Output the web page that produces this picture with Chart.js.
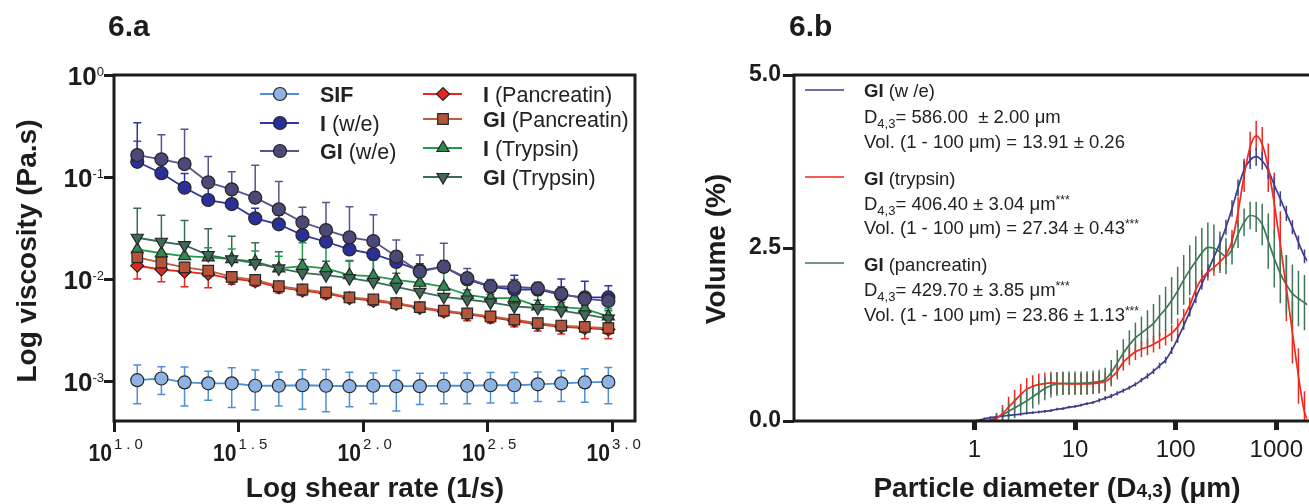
<!DOCTYPE html>
<html><head><meta charset="utf-8">
<script src="https://cdn.jsdelivr.net/npm/chart.js@4.4.1/dist/chart.umd.min.js"></script>
<style>
html,body{margin:0;padding:0;background:#fff;overflow:hidden;}
#wrap{position:relative;width:1309px;height:504px;overflow:hidden;}
#ca{position:absolute;left:0;top:0;}
#cb{position:absolute;left:660px;top:0;}
</style></head><body>
<div id="wrap"><canvas id="ca" width="660" height="504"></canvas><canvas id="cb" width="649" height="504"></canvas></div>
<script>
// ---------- Panel 6.a data ----------
const shearRate = [12.4, 15.5, 19.2, 23.9, 29.7, 36.9, 45.9, 57.1, 71.0, 88.2, 110, 136, 169, 211, 262, 325, 405, 503, 625, 777, 966];
const sifVisc   = [0.00102,0.00106,0.00097,0.00095,0.00095,0.00090,0.00090,0.00091,0.00090,0.00089,0.00090,0.00089,0.00089,0.00090,0.00090,0.00091,0.00091,0.00093,0.00095,0.00097,0.00098];
const sifSD     = [0.00042,0.00032,0.00040,0.00030,0.00040,0.00038,0.00033,0.00038,0.00040,0.00033,0.00030,0.00038,0.00030,0.00030,0.00030,0.00030,0.00030,0.00030,0.00032,0.00035,0.00038];
const iWeVisc   = [0.141,0.109,0.0785,0.0595,0.0543,0.0394,0.0344,0.0270,0.0232,0.0195,0.0176,0.0147,0.0121,0.0132,0.0099,0.0084,0.0079,0.0079,0.0070,0.0066,0.0066];
const iWeSD     = [0.20,0.04,0.03,0.02,0.015,0.01,0.008,0.006,0.005,0.004,0.004,0.003,0.002,0.002,0.0015,0.0012,0.003,0.001,0.003,0.0029,0.002];
const giWeVisc  = [0.164,0.149,0.134,0.0887,0.0757,0.0627,0.0482,0.0360,0.0302,0.0256,0.0236,0.0166,0.0118,0.0132,0.0102,0.0085,0.0084,0.0081,0.0072,0.0064,0.0061];
const giWeSD    = [0.06,0.11,0.16,0.07,0.037,0.068,0.042,0.0145,0.026,0.0256,0.019,0.0075,0.0054,0.0092,0.0025,0.0014,0.0015,0.0012,0.0012,0.001,0.001];
const iPancVisc = [0.0135,0.0124,0.0118,0.0112,0.0101,0.0095,0.0083,0.0077,0.0072,0.0065,0.0061,0.0057,0.0052,0.0048,0.0045,0.0042,0.0039,0.0036,0.0034,0.0033,0.0032];
const iPancSD   = [0.0035,0.003,0.0034,0.003,0.0012,0.001,0.001,0.0008,0.0008,0.0006,0.0006,0.0006,0.0005,0.0005,0.0006,0.0005,0.0005,0.0005,0.0005,0.0007,0.0006];
const giPancVisc= [0.0163,0.0145,0.0130,0.0121,0.0105,0.0098,0.0085,0.0079,0.0074,0.0066,0.0063,0.0058,0.0053,0.0049,0.0046,0.0043,0.0040,0.0037,0.0035,0.0034,0.0033];
const giPancSD  = [0.002,0.0015,0.0015,0.0012,0.0008,0.0008,0.0007,0.0006,0.0006,0.0005,0.0005,0.0005,0.0004,0.0004,0.0005,0.0005,0.0004,0.0004,0.0004,0.0004,0.0004];
const iTrypVisc = [0.0195,0.0179,0.0168,0.0163,0.0157,0.0148,0.0127,0.0134,0.0127,0.0109,0.0107,0.0098,0.0092,0.0084,0.0070,0.0065,0.0065,0.0054,0.0053,0.0051,0.0043];
const iTrypSD   = [0.006,0.005,0.005,0.004,0.004,0.004,0.004,0.0093,0.0088,0.004,0.005,0.0047,0.003,0.004,0.002,0.0015,0.003,0.0015,0.0015,0.0015,0.0008];
const giTrypVisc= [0.0254,0.0232,0.0215,0.0172,0.0156,0.0143,0.0127,0.0115,0.0109,0.0102,0.0094,0.0084,0.0075,0.0067,0.0063,0.0059,0.0054,0.0052,0.0049,0.0045,0.0041];
const giTrypSD  = [0.024,0.019,0.016,0.014,0.0106,0.0084,0.0058,0.004,0.004,0.005,0.006,0.003,0.003,0.002,0.0015,0.0012,0.001,0.001,0.001,0.001,0.0008];
const aYTickVals = [1, 0.1, 0.01, 0.001];
const aYTickExp  = ['0', '-1', '-2', '-3'];
const aXTickVals = [10, 31.623, 100, 316.23, 1000];
const aXTickExp  = ['1.0', '1.5', '2.0', '2.5', '3.0'];

// ---------- Panel 6.b data ----------
const particleSize = [0.01, 0.955,1.096,1.259,1.445,1.660,1.905,2.188,2.512,2.884,3.311, 3.802,4.365,5.012,5.754,6.607,7.586,8.710,10.0,11.48,13.18, 15.14,17.38,19.95,22.91,26.30,30.20,34.67,39.81,45.71,52.48, 60.26,69.18,79.43,91.20,104.7,120.2,138.0,158.5,182.0,208.9, 239.9,275.4,316.2,363.1,416.9,478.6,549.5,631.0,724.4,831.8, 955.0,1096,1259,1445,1660,1905,2188,2512];
const volWe     = [0, 0,0.01,0.03,0.05,0.06,0.07,0.08,0.09,0.10,0.115, 0.12,0.13,0.14,0.15,0.17,0.18,0.20,0.21,0.23,0.25, 0.27,0.30,0.33,0.36,0.40,0.44,0.48,0.53,0.59,0.65, 0.72,0.80,0.88,1.02,1.19,1.38,1.58,1.78,1.98,2.17, 2.37,2.57,2.80,3.07,3.37,3.63,3.77,3.82,3.76,3.62, 3.41,3.21,3.00,2.80,2.58,2.38,2.25,2.12];
const volWeSD   = [0, 0,0.01,0.02,0.02,0.02,0.02,0.02,0.02,0.02,0.02, 0.02,0.02,0.02,0.02,0.02,0.02,0.02,0.02,0.02,0.02, 0.02,0.03,0.03,0.03,0.03,0.03,0.03,0.03,0.03,0.04, 0.04,0.04,0.05,0.05,0.06,0.06,0.07,0.08,0.08,0.09, 0.10,0.10,0.11,0.12,0.12,0.13,0.13,0.13,0.13,0.12, 0.12,0.11,0.11,0.10,0.10,0.10,0.10,0.10];
const volTryp   = [0, 0,0,0,0.01,0.04,0.11,0.20,0.29,0.38,0.46, 0.50,0.525,0.54,0.55,0.545,0.54,0.535,0.535,0.535,0.535, 0.54,0.55,0.57,0.63,0.72,0.85,0.93,1.00,1.04,1.07, 1.11,1.16,1.21,1.27,1.36,1.50,1.67,1.90,2.06,2.15, 2.22,2.30,2.40,2.60,3.02,3.55,3.96,4.12,4.00,3.66, 3.14,2.55,1.92,1.28,0.65,0.13,0,0];
const volTrypSD = [0, 0,0,0,0.02,0.08,0.12,0.15,0.16,0.16,0.16, 0.16,0.16,0.16,0.16,0.16,0.16,0.15,0.15,0.15,0.15, 0.15,0.15,0.14,0.13,0.12,0.12,0.12,0.12,0.12,0.12, 0.12,0.12,0.12,0.12,0.12,0.12,0.12,0.12,0.12,0.12, 0.12,0.12,0.13,0.16,0.22,0.24,0.22,0.22,0.25,0.35, 0.45,0.48,0.48,0.45,0.40,0.30,0,0];
const volPanc   = [0, 0,0,0,0.01,0.05,0.09,0.14,0.19,0.24,0.29, 0.35,0.41,0.47,0.51,0.535,0.545,0.545,0.545,0.545,0.55, 0.56,0.57,0.60,0.70,0.84,0.98,1.10,1.20,1.27,1.34, 1.41,1.52,1.62,1.74,1.88,2.04,2.18,2.31,2.43,2.51, 2.50,2.44,2.38,2.48,2.70,2.87,2.97,2.95,2.84,2.60, 2.35,2.13,1.97,1.84,1.77,1.71,1.65,1.60];
const volPancSD = [0, 0,0,0,0.02,0.06,0.10,0.13,0.15,0.16,0.17, 0.17,0.17,0.17,0.17,0.17,0.17,0.17,0.17,0.17,0.17, 0.17,0.17,0.17,0.18,0.19,0.20,0.21,0.22,0.24,0.26, 0.28,0.30,0.32,0.34,0.35,0.36,0.36,0.36,0.36,0.36, 0.34,0.30,0.26,0.22,0.20,0.20,0.20,0.22,0.30,0.40, 0.42,0.43,0.43,0.42,0.40,0.40,0.40,0.40];
const bYTickVals = [0, 2.5, 5];
const bYTickLabels = ['0.0', '2.5', '5.0'];
const bXTickVals = [1, 10, 100, 1000];
const bXTickLabels = ['1', '10', '100', '1000'];

// ---------- helpers ----------
const FF = '"Liberation Sans", Arial, sans-serif';
const AX = '#1c1c1c';
const f = (w, s) => `${w} ${s}px ${FF}`;

function drawRuns(ctx, x, y, runs, align, sx) {
  sx = sx || 1;
  ctx.save();
  ctx.translate(x, y);
  ctx.scale(sx, 1);
  let w = 0;
  for (const r of runs) {
    ctx.font = r.font;
    if (r.ls) { for (const ch of r.t) w += ctx.measureText(ch).width + r.ls; w -= r.ls; }
    else w += ctx.measureText(r.t).width;
  }
  let cx = align === 'center' ? -w / 2 : align === 'right' ? -w : 0;
  ctx.textAlign = 'left'; ctx.textBaseline = 'alphabetic';
  for (const r of runs) {
    ctx.font = r.font; ctx.fillStyle = r.color || AX;
    if (r.ls) { for (const ch of r.t) { ctx.fillText(ch, cx, r.dy || 0); cx += ctx.measureText(ch).width + r.ls; } }
    else { ctx.fillText(r.t, cx, r.dy || 0); cx += ctx.measureText(r.t).width; }
  }
  ctx.restore();
}

function pts(xs, ys) { return xs.map((x, i) => ({ x: x, y: ys[i] })); }

const errorBars = {
  id: 'errorBars',
  beforeDatasetsDraw(chart) {
    const ctx = chart.ctx, ys = chart.scales.y, a = chart.chartArea;
    ctx.save();
    ctx.beginPath(); ctx.rect(a.left, a.top, a.right - a.left, a.bottom - a.top); ctx.clip();
    chart.data.datasets.forEach((ds, di) => {
      if (!ds.errors) return;
      const meta = chart.getDatasetMeta(di);
      ctx.strokeStyle = ds.borderColor; ctx.lineWidth = ds.errWidth || 1.5;
      meta.data.forEach((p, i) => {
        const v = ds.data[i].y, sd = ds.errors[i];
        if (!sd) return;
        const yHi = ys.getPixelForValue(v + sd);
        const lo = v - sd;
        const yLo = lo > 0 || ys.type === 'linear' ? ys.getPixelForValue(lo) : a.bottom + 5;
        const cw = ds.capW || 0;
        const up = ds.errDir !== 'down', down = ds.errDir !== 'up';
        ctx.beginPath();
        ctx.moveTo(p.x, down ? yLo : p.y); ctx.lineTo(p.x, up ? yHi : p.y);
        if (cw) {
          if (up) { ctx.moveTo(p.x - cw, yHi); ctx.lineTo(p.x + cw, yHi); }
          if (down) { ctx.moveTo(p.x - cw, yLo); ctx.lineTo(p.x + cw, yLo); }
        }
        ctx.stroke();
      });
    });
    ctx.restore();
  }
};

// ---------- Panel 6.a ----------
const dsA = [
  { key: 'giWe',  bold: 'GI',  rest: ' (w/e)',        data: giWeVisc,   sd: giWeSD,   line: '#57548e', fill: '#4b4977', style: 'circle', r: 6.5, rot: 0, dir: 'up',   order: 0 },
  { key: 'iWe',   bold: 'I',   rest: ' (w/e)',        data: iWeVisc,    sd: iWeSD,    line: '#2f35a2', fill: '#2b2f98', style: 'circle', r: 6.5, rot: 0, dir: 'up',   order: 1 },
  { key: 'giPan', bold: 'GI',  rest: ' (Pancreatin)', data: giPancVisc, sd: giPancSD, line: '#bd5e3e', fill: '#b4553a', style: 'rect',   r: 7.5, rot: 0, dir: 'both', order: 2 },
  { key: 'iPan',  bold: 'I',   rest: ' (Pancreatin)', data: iPancVisc,  sd: iPancSD,  line: '#e8261f', fill: '#e8261f', style: 'rectRot',r: 6.5, rot: 0, dir: 'down', order: 3 },
  { key: 'giTry', bold: 'GI',  rest: ' (Trypsin)',    data: giTrypVisc, sd: giTrypSD, line: '#3b6d56', fill: '#3e6a57', style: 'triangle', r: 7, rot: 180, dir: 'up', order: 4 },
  { key: 'iTry',  bold: 'I',   rest: ' (Trypsin)',    data: iTrypVisc,  sd: iTrypSD,  line: '#1f9c49', fill: '#2e8a4f', style: 'triangle', r: 7, rot: 0, dir: 'up', order: 5 },
  { key: 'sif',   bold: 'SIF', rest: '',              data: sifVisc,    sd: sifSD,    line: '#4d8fd8', fill: '#8db3e2', style: 'circle', r: 6.5, rot: 0, dir: 'both', order: 6 }
];

const legendA = [
  { key: 'sif',   x: 260, y: 94 },
  { key: 'iWe',   x: 260, y: 123 },
  { key: 'giWe',  x: 260, y: 151 },
  { key: 'iPan',  x: 423, y: 94 },
  { key: 'giPan', x: 423, y: 119 },
  { key: 'iTry',  x: 423, y: 148 },
  { key: 'giTry', x: 423, y: 177 }
];

const decorA = {
  id: 'decorA',
  afterDraw(chart) {
    const ctx = chart.ctx, a = chart.chartArea, xs = chart.scales.x, ys = chart.scales.y;
    ctx.save();
    ctx.strokeStyle = AX; ctx.lineWidth = 3;
    ctx.strokeRect(a.left, a.top, a.right - a.left, a.bottom - a.top);
    aYTickVals.forEach((v, i) => {
      const py = ys.getPixelForValue(v);
      drawRuns(ctx, 104, py + 10, [
        { t: '10', font: f('bold', 26) },
        { t: aYTickExp[i], font: f('normal', 13), dy: -9 }
      ], 'right');
    });
    aXTickVals.forEach((v, i) => {
      const px = xs.getPixelForValue(v);
      drawRuns(ctx, px - 2, 461, [{ t: '10', font: f('bold', 24) }], 'right', 0.88);
      drawRuns(ctx, px, 449, [{ t: aXTickExp[i], font: f('normal', 15), ls: 4 }], 'left');
    });
    drawRuns(ctx, 108, 36, [{ t: '6.a', font: f('bold', 30) }], 'left');
    drawRuns(ctx, 375, 497, [{ t: 'Log shear rate (1/s)', font: f('bold', 28) }], 'center');
    ctx.save(); ctx.translate(36, 251); ctx.rotate(-Math.PI / 2);
    drawRuns(ctx, 0, 0, [{ t: 'Log viscosity (Pa.s)', font: f('bold', 28) }], 'center');
    ctx.restore();
    legendA.forEach(L => {
      const d = dsA.find(s => s.key === L.key);
      ctx.strokeStyle = d.line; ctx.lineWidth = 1.8;
      ctx.beginPath(); ctx.moveTo(L.x, L.y); ctx.lineTo(L.x + 39, L.y); ctx.stroke();
      ctx.fillStyle = d.fill; ctx.strokeStyle = '#262626'; ctx.lineWidth = 1.2;
      Chart.helpers.drawPoint(ctx, { pointStyle: d.style, radius: d.r, rotation: d.rot, borderWidth: 1.2 }, L.x + 20, L.y);
      const runs = [{ t: d.bold, font: f('bold', 21.5), color: '#222' }];
      if (d.rest) runs.push({ t: d.rest, font: f('normal', 21.5), color: '#222' });
      drawRuns(ctx, L.x + 60, L.y + 7.5, runs, 'left');
    });
    ctx.restore();
  }
};

new Chart(document.getElementById('ca'), {
  type: 'line',
  data: {
    datasets: dsA.map(d => ({
      label: d.bold + d.rest,
      data: pts(shearRate, d.data),
      errors: d.sd, errDir: d.dir, capW: 4, errWidth: 1.5,
      borderColor: d.line, borderWidth: 1.8,
      backgroundColor: d.fill,
      pointStyle: d.style, pointRadius: d.r, pointRotation: d.rot,
      pointBackgroundColor: d.fill, pointBorderColor: '#262626', pointBorderWidth: 1.2,
      order: d.order, tension: 0, clip: 6
    }))
  },
  options: {
    responsive: false, animation: false, devicePixelRatio: 1, events: [],
    layout: { padding: { left: 0, right: 25, top: 75, bottom: 0 } },
    plugins: { legend: { display: false }, tooltip: { enabled: false } },
    scales: {
      x: {
        type: 'logarithmic', min: 10, max: 1236,
        afterBuildTicks: s => { s.ticks = aXTickVals.map(v => ({ value: v })); },
        afterFit: s => { s.height = 83; },
        ticks: { display: false },
        grid: { display: true, drawOnChartArea: false, drawTicks: true, tickLength: 11, tickWidth: 3, tickColor: AX, color: AX, lineWidth: 3 },
        border: { display: false }
      },
      y: {
        type: 'logarithmic', min: 0.000406, max: 1,
        afterBuildTicks: s => { s.ticks = aYTickVals.map(v => ({ value: v })); },
        afterFit: s => { s.width = 114; },
        ticks: { display: false },
        grid: { display: true, drawOnChartArea: false, drawTicks: true, tickLength: 10, tickWidth: 3, tickColor: AX, color: AX, lineWidth: 3 },
        border: { display: false }
      }
    }
  },
  plugins: [errorBars, decorA]
});

// ---------- Panel 6.b ----------
const dsB = [
  { key: 'tryp', data: volTryp, sd: volTrypSD, color: '#f0291f', order: 0 },
  { key: 'we',   data: volWe,   sd: volWeSD,   color: '#3f3d8c', order: 1 },
  { key: 'panc', data: volPanc, sd: volPancSD, color: '#3f7656', order: 2 }
];
const OX = 660;
const decorB = {
  id: 'decorB',
  afterDraw(chart) {
    const ctx = chart.ctx, a = chart.chartArea, W = chart.width;
    ctx.save();
    ctx.strokeStyle = AX; ctx.lineWidth = 3;
    ctx.beginPath();
    ctx.moveTo(W + 5, a.top); ctx.lineTo(a.left, a.top); ctx.lineTo(a.left, a.bottom); ctx.lineTo(W + 5, a.bottom);
    ctx.stroke();
    drawRuns(ctx, 789 - OX, 36, [{ t: '6.b', font: f('bold', 30) }], 'left');
    const big = f('bold', 28), small = f('bold', 19);
    drawRuns(ctx, 1057 - OX, 497, [
      { t: 'Particle diameter (D', font: big }, { t: '4,3', font: small }, { t: ') (μm)', font: big }
    ], 'center');
    ctx.save(); ctx.translate(725 - OX, 249); ctx.rotate(-Math.PI / 2);
    drawRuns(ctx, 0, 0, [{ t: 'Volume (%)', font: big }], 'center');
    ctx.restore();
    const n = f('normal', 18.5), b = f('bold', 18.5), s = f('normal', 13), st = f('normal', 12);
    const tx = 864 - OX;
    const items = [
      { c: '#3f3d8c', y: 90, rows: [
        [{ t: 'GI', font: b }, { t: ' (w /e)', font: n }],
        [{ t: 'D', font: n }, { t: '4,3', font: s, dy: 5 }, { t: '= 586.00  ± 2.00 μm', font: n }],
        [{ t: 'Vol. (1 - 100 μm) = 13.91 ± 0.26', font: n }]
      ], ys: [90, 116, 141] },
      { c: '#f0291f', y: 177, rows: [
        [{ t: 'GI', font: b }, { t: ' (trypsin)', font: n }],
        [{ t: 'D', font: n }, { t: '4,3', font: s, dy: 5 }, { t: '= 406.40 ± 3.04 μm', font: n }, { t: '***', font: st, dy: -6 }],
        [{ t: 'Vol. (1 - 100 μm) = 27.34 ± 0.43', font: n }, { t: '***', font: st, dy: -6 }]
      ], ys: [178, 203, 227] },
      { c: '#3f7656', y: 263, rows: [
        [{ t: 'GI', font: b }, { t: ' (pancreatin)', font: n }],
        [{ t: 'D', font: n }, { t: '4,3', font: s, dy: 5 }, { t: '= 429.70 ± 3.85 μm', font: n }, { t: '***', font: st, dy: -6 }],
        [{ t: 'Vol. (1 - 100 μm) = 23.86 ± 1.13', font: n }, { t: '***', font: st, dy: -6 }]
      ], ys: [264, 289, 314] }
    ];
    items.forEach(it => {
      ctx.strokeStyle = it.c; ctx.lineWidth = 1.6;
      ctx.beginPath(); ctx.moveTo(805 - OX, it.y); ctx.lineTo(844 - OX, it.y); ctx.stroke();
      it.rows.forEach((r, k) => drawRuns(ctx, tx, it.ys[k] + 6.5, r.map(q => Object.assign({ color: '#222' }, q)), 'left'));
    });
    ctx.restore();
  }
};

new Chart(document.getElementById('cb'), {
  type: 'line',
  data: {
    datasets: dsB.map(d => ({
      label: d.key,
      data: pts(particleSize, d.data),
      errors: d.sd, errDir: 'both', capW: 0, errWidth: 1.5,
      borderColor: d.color, borderWidth: 1.7,
      pointRadius: 0, cubicInterpolationMode: 'monotone',
      order: d.order
    }))
  },
  options: {
    responsive: false, animation: false, devicePixelRatio: 1, events: [],
    layout: { padding: { left: 0, right: 0, top: 75, bottom: 0 } },
    plugins: { legend: { display: false }, tooltip: { enabled: false } },
    scales: {
      x: {
        type: 'logarithmic', min: 0.01614, max: 2028,
        afterBuildTicks: s => { s.ticks = bXTickVals.map(v => ({ value: v })); },
        afterFit: s => { s.height = 83; },
        ticks: { color: AX, font: { family: FF, size: 24, weight: 'normal' }, padding: 6, maxRotation: 0, autoSkip: false,
                 callback: (v, i) => bXTickLabels[i] },
        grid: { display: true, drawOnChartArea: false, drawTicks: true, tickLength: 9, tickWidth: 5, tickColor: AX, color: AX, lineWidth: 5 },
        border: { display: false }
      },
      y: {
        type: 'linear', min: 0, max: 5,
        afterBuildTicks: s => { s.ticks = bYTickVals.map(v => ({ value: v })); },
        afterFit: s => { s.width = 134; },
        ticks: { color: AX, font: { family: FF, size: 23, weight: 'bold' }, padding: 2,
                 callback: (v, i) => bYTickLabels[i] },
        grid: { display: true, drawOnChartArea: false, drawTicks: true, tickLength: 11, tickWidth: 3, tickColor: AX, color: AX, lineWidth: 3 },
        border: { display: false }
      }
    }
  },
  plugins: [errorBars, decorB]
});
</script>
</body></html>
